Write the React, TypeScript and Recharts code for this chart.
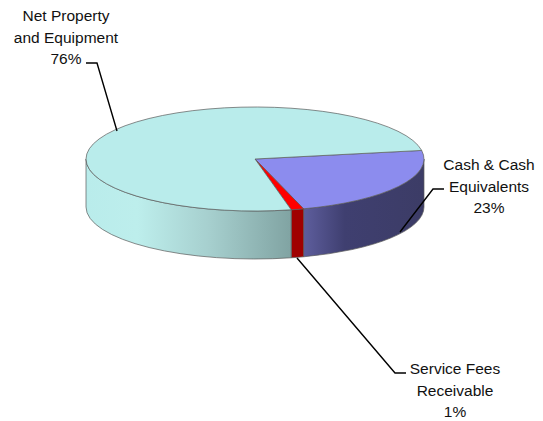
import { PieChart, Pie } from 'recharts';

const sliceNames = ['Cash & Cash Equivalents', 'Service Fees Receivable', 'Net Property and Equipment'];
const sliceValues = [23, 1.2, 75.8];
const sliceTops = ['#8c8cee', '#ff0000', '#b9eceb'];
const sliceWalls = ['url(#wallCash)', '#a00000', 'url(#wallNet)'];
const labelLines = [
  ['Cash & Cash', 'Equivalents', '23%'],
  ['Service Fees', 'Receivable', '1%'],
  ['Net Property', 'and Equipment', '76%'],
];

const data = sliceNames.map((name, i) => ({ name, value: sliceValues[i], top: sliceTops[i], wall: sliceWalls[i] }));

// 3D look: the pie is a flattened circle with a wall below it
const SQUASH = 52 / 169;
const DEPTH = 48;
const RAD = Math.PI / 180;

// label placement and leader lines, one per slice
const labelPos = [
  { x: 489, y: 170, leader: '400,232 433,189 444,189' },
  { x: 455, y: 374, leader: '297,258 395,373 406,373' },
  { x: 66, y: 21, leader: '117,131 97,63 86,63' },
];

const PieSlice = (props: any) => {
  const { cx, cy, outerRadius: r, startAngle, endAngle, payload } = props;
  const px = (a: number) => cx + r * Math.cos(a * RAD);
  const py = (a: number) => cy - r * SQUASH * Math.sin(a * RAD);
  const ry = r * SQUASH;
  const hi = Math.max(startAngle, endAngle);
  const lo = Math.min(startAngle, endAngle);
  const large = hi - lo > 180 ? 1 : 0;
  const topPath = `M${cx},${cy} L${px(hi)},${py(hi)} A${r},${ry} 0 ${large} 1 ${px(lo)},${py(lo)} Z`;

  // wall: the part of the arc on the front half of the ellipse (angles -180..0)
  const walls: string[] = [];
  [-360, 0].forEach((turn) => {
    const from = Math.min(hi, turn);
    const to = Math.max(lo, turn - 180);
    if (from > to) {
      const big = from - to > 180 ? 1 : 0;
      walls.push(
        `M${px(from)},${py(from)} A${r},${ry} 0 ${big} 1 ${px(to)},${py(to)} L${px(to)},${py(to) + DEPTH} A${r},${ry} 0 ${big} 0 ${px(from)},${py(from) + DEPTH} Z`
      );
    }
  });

  return (
    <g>
      {walls.map((d, i) => (
        <path key={i} d={d} fill={payload.wall} stroke="#5a5a5a" strokeWidth={0.7} />
      ))}
      <path d={topPath} fill={payload.top} stroke="#5a5a5a" strokeWidth={0.7} />
    </g>
  );
};

const SliceLabel = (props: any) => {
  const pos = labelPos[props.index];
  const lines = labelLines[props.index];
  return (
    <g>
      <polyline points={pos.leader} fill="none" stroke="#000" strokeWidth={1.4} />
      <text x={pos.x} y={pos.y} textAnchor="middle" fontFamily="Liberation Sans" fontSize={15.5} fill="#111">
        {lines.map((line, i) => (
          <tspan key={i} x={pos.x} dy={i === 0 ? 0 : 21.5}>
            {line}
          </tspan>
        ))}
      </text>
    </g>
  );
};

export default function App() {
  return (
    <div style={{ position: 'absolute', left: 0, top: 0, width: 543, height: 421, background: '#fff' }}>
      <PieChart width={543} height={421} margin={{ top: 0, right: 0, bottom: 0, left: 0 }}>
        <defs>
          <linearGradient id="wallNet" gradientUnits="userSpaceOnUse" x1={86} y1={0} x2={292} y2={0}>
            <stop offset="0" stopColor="#b9eceb" />
            <stop offset="0.25" stopColor="#bdeeec" />
            <stop offset="0.6" stopColor="#a6cfce" />
            <stop offset="1" stopColor="#80a3a2" />
          </linearGradient>
          <linearGradient id="wallCash" gradientUnits="userSpaceOnUse" x1={302} y1={0} x2={424} y2={0}>
            <stop offset="0" stopColor="#5f5f9f" />
            <stop offset="0.35" stopColor="#3f3f70" />
            <stop offset="1" stopColor="#3c3c66" />
          </linearGradient>
        </defs>
        <Pie
          data={data}
          dataKey="value"
          nameKey="name"
          cx={255}
          cy={159}
          outerRadius={169}
          startAngle={9.5}
          endAngle={-350.5}
          paddingAngle={0}
          stroke="none"
          labelLine={false}
          label={SliceLabel}
          shape={PieSlice}
          isAnimationActive={false}
        />
      </PieChart>
    </div>
  );
}
